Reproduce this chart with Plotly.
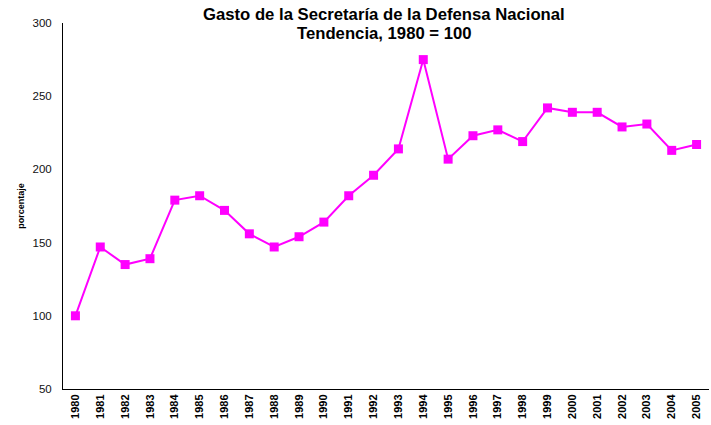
import plotly.graph_objects as go

years = [str(y) for y in range(1980, 2006)]
values = [100, 147, 135, 139, 179, 182, 172, 156, 147, 154, 164, 182, 196, 214,
          275, 207, 223, 227, 219, 242, 239, 239, 229, 231, 213, 217]
y_ticks = [50, 100, 150, 200, 250, 300]
title_lines = ["Gasto de la Secretaría de la Defensa Nacional", "Tendencia, 1980 = 100"]

font_family = "Liberation Sans, Arial, sans-serif"

fig = go.Figure()
fig.add_trace(go.Scatter(
    x=years, y=values, mode="lines+markers",
    line=dict(color="#FF00FF", width=2),
    marker=dict(symbol="square", size=9, color="#FF00FF"),
    hoverinfo="x+y",
))

plot_h = 425 - 23 - 36
for txt, center_px in zip(title_lines, [14, 33]):
    fig.add_annotation(
        text=txt, xref="paper", yref="paper", x=0.497, xanchor="center",
        y=1 + (23 - center_px) / plot_h, yanchor="middle", showarrow=False,
        font=dict(size=16.7, weight="bold", color="black", family=font_family),
    )

fig.update_layout(
    width=711, height=425,
    margin=dict(l=63, r=2, t=23, b=36, autoexpand=False),
    paper_bgcolor="white", plot_bgcolor="white",
    showlegend=False,
    font=dict(family=font_family, color="black"),
    xaxis=dict(
        type="category", tickangle=-90, showgrid=False, zeroline=False,
        showline=True, linecolor="black", linewidth=1,
        ticks="", tickfont=dict(size=11, weight="bold", color="black"),
        automargin=False, range=[-0.5, len(years) - 0.5],
    ),
    yaxis=dict(
        range=[50, 300], tickvals=y_ticks, showgrid=False, zeroline=False,
        showline=True, linecolor="black", linewidth=1,
        ticks="", ticklabelstandoff=8,
        tickfont=dict(size=11.5, color="#111"),
        title=dict(text="porcentaje", font=dict(size=9, weight="bold"), standoff=6),
        automargin=False,
    ),
)

fig.write_html(
    "out.html",
    config={"displayModeBar": False},
    post_script="document.body.style.margin='0';document.body.style.overflow='hidden';",
)
